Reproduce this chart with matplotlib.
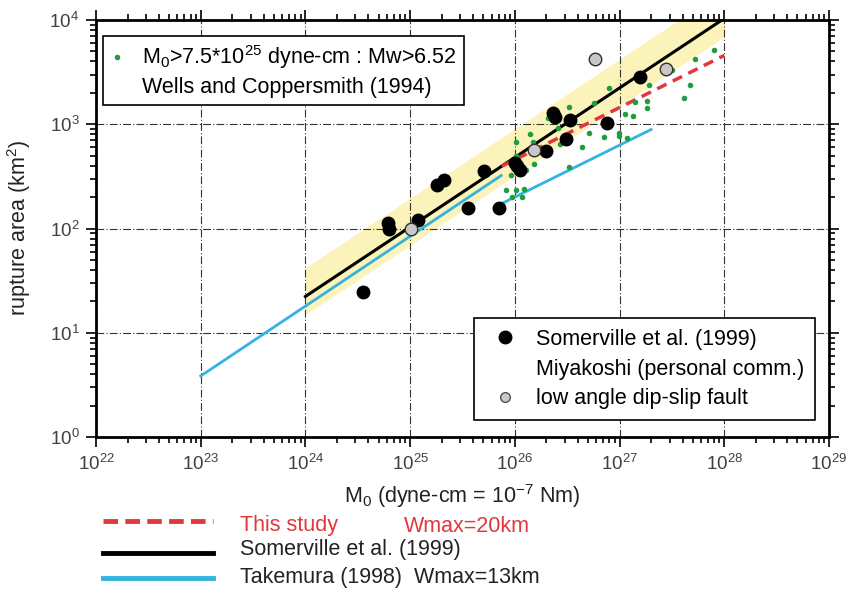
import numpy as np
import matplotlib
matplotlib.use("Agg")
import matplotlib.pyplot as plt
from matplotlib.lines import Line2D
from matplotlib.ticker import LogLocator, NullFormatter, FixedLocator

plt.rcParams['font.family'] = ['Liberation Sans', 'DejaVu Sans']
plt.rcParams['mathtext.fontset'] = 'custom'
plt.rcParams['mathtext.rm'] = 'Liberation Sans'
plt.rcParams['mathtext.it'] = 'Liberation Sans:italic'
plt.rcParams['mathtext.bf'] = 'Liberation Sans:bold'

# -------------------------
# dane

# Somerville et al. (1999) - czarne kropki
som_m0 = [3.57e24, 6.12e24, 6.24e24, 1.19e25, 1.81e25, 2.12e25, 3.56e25, 5.11e25,
          7.13e25, 1.00e26, 1.05e26, 1.12e26, 1.98e26, 2.31e26, 2.44e26, 3.05e26,
          3.35e26, 7.57e26, 1.55e27]
som_area = [24.7, 112, 98, 120, 262, 295, 159, 358,
            159, 427, 396, 368, 552, 1288, 1180, 726,
            1097, 1019, 2837]

# low angle dip-slip fault - szare kropki
low_m0 = [1.02e25, 1.52e26, 5.85e26, 2.75e27]
low_area = [98, 565, 4190, 3410]

# Wells and Coppersmith (1994) - zielone kropki
wc_m0 = [8.3e25, 9.4e25, 1.03e26, 1.18e26, 1.23e26, 9.2e25, 9.7e25, 1.03e26,
         1.03e26, 1.29e26, 1.53e26, 1.41e26, 1.50e26, 2.09e26, 2.61e26, 2.72e26,
         3.32e26, 3.32e26, 4.42e26, 5.05e26, 5.64e26, 7.03e26, 7.85e26, 9.79e26,
         9.79e26, 1.17e27, 1.12e27, 1.33e27, 1.39e27, 1.82e27, 1.82e27, 1.90e27,
         3.15e27, 4.10e27, 4.68e27, 5.22e27, 7.94e27]
wc_area = [232, 199, 232, 199, 237, 323, 413, 492,
           671, 361, 413, 801, 671, 1142, 915, 642,
           1456, 386, 601, 819, 1592, 750, 2219, 819,
           767, 733, 1248, 1194, 1628, 1663, 1425, 2371,
           3305, 1778, 2371, 4217, 5148]

# linie
som_line_m0 = [1e24, 1e28]
som_line_area = [22.3, 10350]
band_low = [14.9, 6900]
band_high = [42, 19460]

study_m0 = [7.5e25, 1e28]
study_area = [396, 4573]

tak1_m0 = [1e23, 7.4e25]
tak1_area = [3.85, 322]
tak2_m0 = [7.8e25, 2.0e27]
tak2_area = [177, 890]

x_ticks = [1e22, 1e23, 1e24, 1e25, 1e26, 1e27, 1e28, 1e29]
y_ticks = [1e0, 1e1, 1e2, 1e3, 1e4]

# -------------------------
# wykres

fig = plt.figure(figsize=(8.46, 5.89), dpi=100)
ax = fig.add_axes([96 / 846, 1 - 437 / 589, (829 - 96) / 846, (437 - 20) / 589])

ax.set_xscale('log')
ax.set_yscale('log')
ax.set_xlim(x_ticks[0], x_ticks[-1])
ax.set_ylim(y_ticks[0], y_ticks[-1])

ax.fill_between(som_line_m0, band_low, band_high, color='#fbf3b9', lw=0, zorder=1)

ax.grid(True, which='major', color='#333333', lw=0.8, ls=(0, (7, 2, 1, 2)), zorder=0)

ax.plot(som_line_m0, som_line_area, color='black', lw=2.2, zorder=3)
ax.plot(study_m0, study_area, color='#e0383e', lw=2.5, ls=(0, (3, 2)), zorder=3)
ax.plot(tak1_m0, tak1_area, color='#33b3e0', lw=2, zorder=3)
ax.plot(tak2_m0, tak2_area, color='#33b3e0', lw=2, zorder=3)

ax.plot(wc_m0, wc_area, 'o', color='#1f9e3e', ms=4, mew=0, zorder=4)
ax.plot(som_m0, som_area, 'o', color='black', ms=9, zorder=5)
ax.plot(low_m0, low_area, 'o', mfc='#c8c8c8', mec='#303030', mew=1, ms=9, zorder=5)

for s in ax.spines.values():
    s.set_linewidth(2)

ax.xaxis.set_major_locator(FixedLocator(x_ticks))
ax.yaxis.set_major_locator(FixedLocator(y_ticks))
ax.xaxis.set_minor_locator(LogLocator(base=10, subs=np.arange(2, 10), numticks=20))
ax.yaxis.set_minor_locator(LogLocator(base=10, subs=np.arange(2, 10), numticks=20))
ax.xaxis.set_minor_formatter(NullFormatter())
ax.yaxis.set_minor_formatter(NullFormatter())
ax.tick_params(which='both', direction='out', top=True, right=True, width=1.2)
ax.tick_params(which='major', length=7, labelsize=13.5, labelcolor='#404040', pad=5)
ax.tick_params(which='minor', length=4)

ax.set_xlabel(r'M$_0$ (dyne-cm = 10$^{-7}$ Nm)', fontsize=15.5, color='#222222', labelpad=6)
ax.set_ylabel(r'rupture area (km$^2$)', fontsize=15.5, color='#222222', labelpad=12)

empty = Line2D([], [], ls='none', marker=None)
h_green = Line2D([], [], ls='none', marker='o', color='#1f9e3e', ms=4, mew=0)
leg1 = ax.legend([h_green, empty],
                 [r'M$_0$>7.5*10$^{25}$ dyne-cm : Mw>6.52', 'Wells and Coppersmith (1994)'],
                 loc='upper left', bbox_to_anchor=(0.0096, 0.962), fontsize=15.5,
                 frameon=True, fancybox=False, edgecolor='black', framealpha=1,
                 handlelength=0.6, handletextpad=0.85, borderpad=0.35, labelspacing=0.25,
                 borderaxespad=0)
leg1.get_frame().set_linewidth(1.2)
ax.add_artist(leg1)

h_black = Line2D([], [], ls='none', marker='o', color='black', ms=9)
h_gray = Line2D([], [], ls='none', marker='o', mfc='#c8c8c8', mec='#505050', ms=7)
leg2 = ax.legend([h_black, empty, h_gray],
                 ['Somerville et al. (1999)', 'Miyakoshi (personal comm.)', 'low angle dip-slip fault'],
                 loc='lower right', bbox_to_anchor=(0.981, 0.041), fontsize=15.5,
                 frameon=True, fancybox=False, edgecolor='black', framealpha=1,
                 handlelength=1.9, handletextpad=0.5, borderpad=0.5, labelspacing=0.4,
                 borderaxespad=0)
leg2.get_frame().set_linewidth(1.2)

# legenda pod wykresem
def fx(px):
    return px / 846

def fy(py):
    return 1 - py / 589

fig.add_artist(Line2D([fx(103), fx(213)], [fy(521), fy(521)], color='#e0383e', lw=3.5, ls=(0, (3, 1.5))))
fig.add_artist(Line2D([fx(103), fx(213)], [fy(553), fy(553)], color='black', lw=3.5))
fig.add_artist(Line2D([fx(103), fx(213)], [fy(578), fy(578)], color='#33b3e0', lw=3.5))
fig.text(fx(240), fy(526), 'This study', color='#e0383e', fontsize=15.5, va='center')
fig.text(fx(404), fy(526), 'Wmax=20km', color='#e0383e', fontsize=15.5, va='center')
fig.text(fx(240), fy(550), 'Somerville et al. (1999)', color='#222222', fontsize=15.5, va='center')
fig.text(fx(240), fy(578), 'Takemura (1998)  Wmax=13km', color='#222222', fontsize=15.5, va='center')

fig.savefig('out.png', dpi=100)
